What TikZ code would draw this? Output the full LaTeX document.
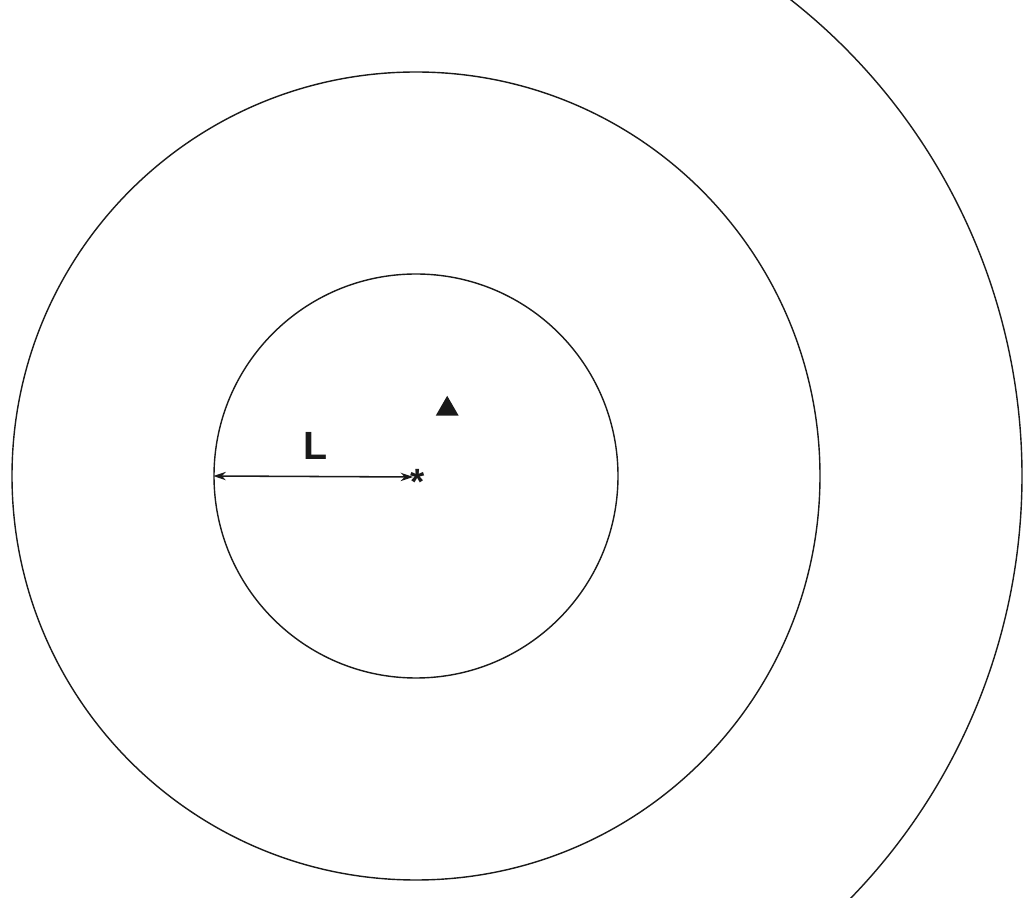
\documentclass[tikz,border=0pt]{standalone}
\usepackage{fontspec}
\setmainfont{Liberation Sans}
\usepackage{tikz}
\usetikzlibrary{shapes.geometric,arrows.meta,positioning}
\definecolor{ink}{RGB}{25,25,25}

\begin{document}
\begin{tikzpicture}[
  ring/.style={circle,draw=ink,line width=1pt,inner sep=0pt},
  marker/.style={regular polygon,regular polygon sides=3,fill=ink,inner sep=0pt,minimum size=0.66cm},
  arrow/.style={{Stealth[length=9pt,width=6pt]}-{Stealth[length=9pt,width=6pt]},line width=1.1pt,ink}
]
\useasboundingbox (0,0) rectangle (25.6,22.425);
\clip (0,0) rectangle (25.6,22.425);
\coordinate (c) at (10.4,10.525);
\node[ring,minimum size=10.1cm] (inner) at (c) {};
\node[ring,minimum size=20.2cm] (outer) at (c) {};
\draw[ink,line width=1pt] (c) ++(55:15.15cm) arc[start angle=55,end angle=-48,radius=15.15cm];
\node[font=\bfseries\fontsize{26}{28}\selectfont,inner sep=0pt,ink] (star) at (10.45,10.38) {*};
\node[marker] (tri) at (11.18,12.2) {};
\draw[arrow] (inner.west) -- (10.33,10.5) coordinate (tip);
\node[font=\bfseries\fontsize{28}{32}\selectfont,ink,above=0.3cm of inner.west,xshift=2.55cm] (len) {L};
\end{tikzpicture}
\end{document}
